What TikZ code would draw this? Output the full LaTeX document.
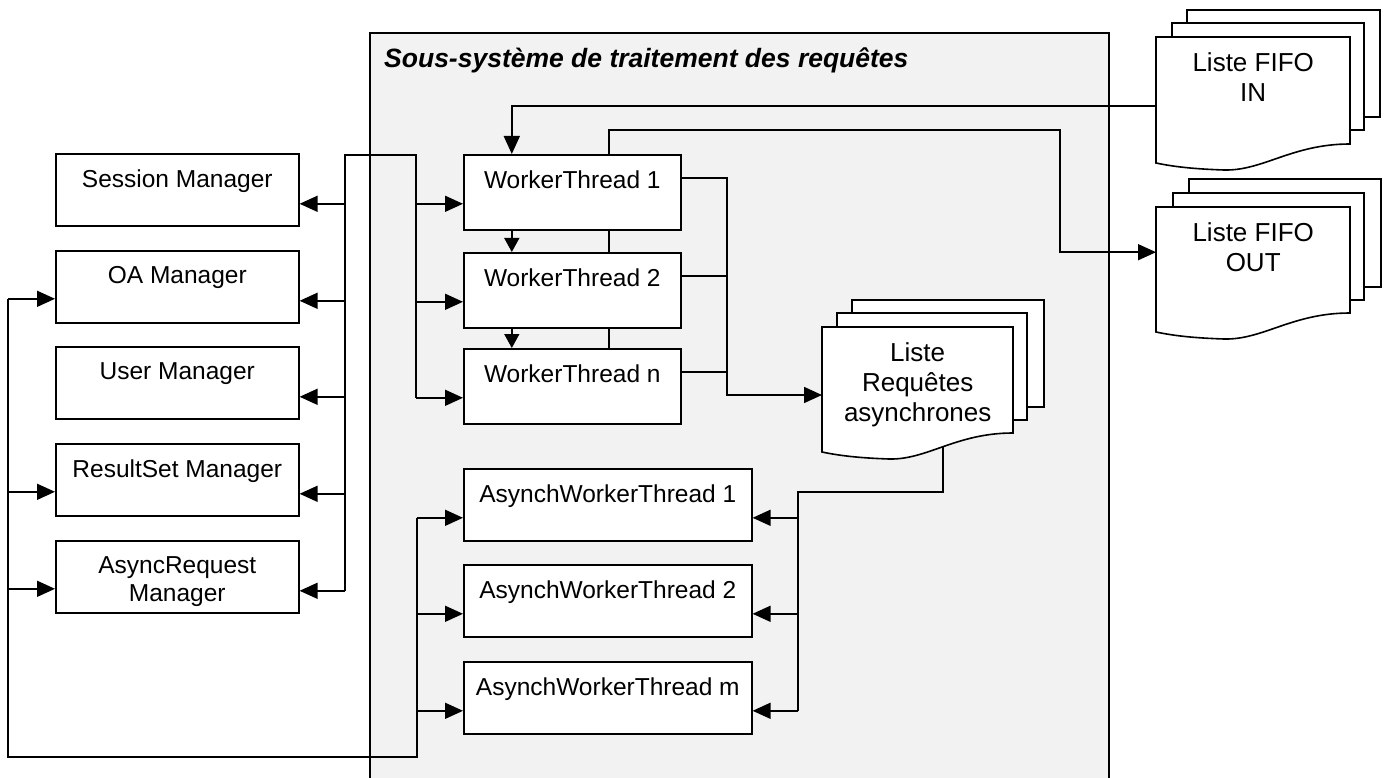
\documentclass[tikz,border=0pt]{standalone}
\usepackage{fontspec}
\setmainfont{Liberation Sans}
\usetikzlibrary{arrows.meta}
\pgfdeclarelayer{bg}
\pgfsetlayers{bg,main}
\begin{document}
\begin{tikzpicture}[x=1pt,y=-1pt,
  line/.style={line width=1.6pt},
  arr/.style={line, -{Triangle[length=18pt,width=16pt]}},
  sarr/.style={line, -{Triangle[length=14pt,width=15pt]}},
  box/.style={draw, line width=1.6pt, fill=white, rectangle, inner sep=0pt, anchor=north west},
  mgr/.style={box, minimum width=243pt, minimum height=72pt},
  wt/.style={box, minimum width=217pt, minimum height=75pt},
  awt/.style={box, minimum width=288pt, minimum height=72pt},
  btxt/.style={font=\fontsize{24.5}{28}\selectfont, align=center, anchor=north, inner sep=0pt, yshift=-16.5pt},
  ltxt/.style={font=\fontsize{26}{30}\selectfont, align=center, anchor=north, inner sep=0pt, yshift=-15.5pt},
  docnode/.style={inner sep=0pt, anchor=north west},
  sheet/.style={line width=1.6pt, draw, fill=white},
  frame/.style={line width=1.6pt}]
\useasboundingbox (0,0) rectangle (1390,778);

% frame of the subsystem
\begin{pgfonlayer}{bg}
  \fill[black!5] (370,33) rectangle (1109,778);
\end{pgfonlayer}
\draw[frame] (370,778) -- (370,33) -- (1109,33) -- (1109,778);
\node[anchor=base west, inner sep=0pt, font=\fontsize{26.5}{30}\selectfont\bfseries\itshape] (title) at (384,68) {Sous-système de traitement des requêtes};

% managers
\node[mgr, label={[btxt]north:Session Manager}] (sm) at (55,153) {};
\node[mgr, label={[btxt]north:OA Manager}] (oam) at (55,250) {};
\node[mgr, label={[btxt]north:User Manager}] (um) at (55,346) {};
\node[mgr, label={[btxt]north:ResultSet Manager}] (rsm) at (55,443) {};
\node[mgr, label={[btxt]north:{AsyncRequest\\Manager}}] (arm) at (55,540) {};

% worker threads
\node[wt, label={[btxt]north:WorkerThread 1}] (wt1) at (463,154) {};
\node[wt, label={[btxt]north:WorkerThread 2}] (wt2) at (463,252) {};
\node[wt, label={[btxt]north:WorkerThread n}] (wtn) at (463,348) {};

% asynch worker threads
\node[awt, label={[btxt]north:AsynchWorkerThread 1}] (awt1) at (463,468) {};
\node[awt, label={[btxt]north:AsynchWorkerThread 2}] (awt2) at (463,564) {};
\node[awt, label={[btxt]north:AsynchWorkerThread m}] (awtm) at (463,661) {};

% document anchors
\node[docnode, minimum width=194pt, minimum height=107pt] (fifoin) at (1156,37) {};
\node[docnode, minimum width=194pt, minimum height=107pt] (fifoout) at (1156,207) {};
\node[docnode, minimum width=191pt, minimum height=106pt] (alist) at (822,327) {};

% coordinates of bends
\coordinate (mb) at (345,155);
\coordinate (wb) at (416,155);
\coordinate (outturn) at (1060,130);
\coordinate (aj) at (727,395);
\coordinate (aq) at (943,492);
\coordinate (ar) at (798,492);
\coordinate (lb1) at (417,757);
\coordinate (lb2) at (8,757);

% manager bus to managers and worker threads
\draw[line] ([yshift=-14pt]arm.east -| mb) -- (mb) -- (wb) -- ([yshift=-11.5pt]wtn.west -| wb);
\foreach \m in {sm,oam,um,rsm,arm}
  \draw[arr] ([yshift=-14pt]\m.east -| mb) -- ([yshift=-14pt]\m.east);
\foreach \w in {wt1,wt2,wtn}
  \draw[arr] ([yshift=-11.5pt]\w.west -| wb) -- ([yshift=-11.5pt]\w.west);

% chain between worker threads
\draw[sarr] ([xshift=-60.5pt]wt1.south) -- ([xshift=-60.5pt]wt2.north);
\draw[sarr] ([xshift=-60.5pt]wt2.south) -- ([xshift=-60.5pt]wtn.north);

% FIFO IN to worker thread 1
\draw[arr] ([yshift=-15.5pt]fifoin.west) -| ([xshift=-60.5pt]wt1.north);

% worker threads to FIFO OUT (behind the boxes)
\begin{pgfonlayer}{bg}
  \draw[arr] ([xshift=36.5pt]wtn.north) |- (outturn) |- ([yshift=8.5pt]fifoout.west);
\end{pgfonlayer}

% worker threads to async list
\draw[arr] ([yshift=14.5pt]wt1.east) -| (aj) -- (alist.west |- aj);
\draw[line] ([yshift=14.5pt]wt2.east) -- ([yshift=14.5pt]wt2.east -| aj);
\draw[line] ([yshift=14.5pt]wtn.east) -- ([yshift=14.5pt]wtn.east -| aj);

% async list to asynch worker threads
\draw[line] (aq |- alist.south) -- (aq) -- (ar) -- ([yshift=-13pt]awtm.east -| ar);
\foreach \a in {awt1,awt2,awtm}
  \draw[arr] ([yshift=-13pt]\a.east -| ar) -- ([yshift=-13pt]\a.east);

% asynch worker threads back to managers
\draw[line] ([yshift=-13pt]awt1.west -| lb1) -- (lb1) -- (lb2) -- ([yshift=-12pt]oam.west -| lb2);
\foreach \a in {awt1,awt2,awtm}
  \draw[arr] ([yshift=-13pt]\a.west -| lb1) -- ([yshift=-13pt]\a.west);
\foreach \m in {oam,rsm,arm}
  \draw[arr] ([yshift=-12pt]\m.west -| lb2) -- ([yshift=-12pt]\m.west);

% document stacks
\path[sheet] (1187,10) rectangle (1380,117);
\path[sheet] (1172,23) rectangle (1364,130);
\path[sheet] (1156,163) -- (1156,37) -- (1350,37) -- (1350,144)
  .. controls (1292,144) and (1263,171) .. (1224,170)
  .. controls (1195,169) and (1175,167) .. (1156,163) -- cycle;
\node[ltxt] (fifointxt) at (fifoin.north) {Liste FIFO\\IN};

\path[sheet] (1189,179) rectangle (1381,287);
\path[sheet] (1173,193) rectangle (1364,300);
\path[sheet] (1156,332) -- (1156,207) -- (1350,207) -- (1350,313)
  .. controls (1292,313) and (1263,340) .. (1224,339)
  .. controls (1195,338) and (1175,336) .. (1156,332) -- cycle;
\node[ltxt] (fifoouttxt) at (fifoout.north) {Liste FIFO\\OUT};

\path[sheet] (852,300) rectangle (1044,407);
\path[sheet] (837,313) rectangle (1027,420);
\path[sheet] (822,452) -- (822,327) -- (1013,327) -- (1013,433)
  .. controls (956,433) and (927,460) .. (889,459)
  .. controls (861,458) and (841,456) .. (822,452) -- cycle;
\node[ltxt] (alisttxt) at (alist.north) {Liste\\Requêtes\\asynchrones};
\end{tikzpicture}
\end{document}
